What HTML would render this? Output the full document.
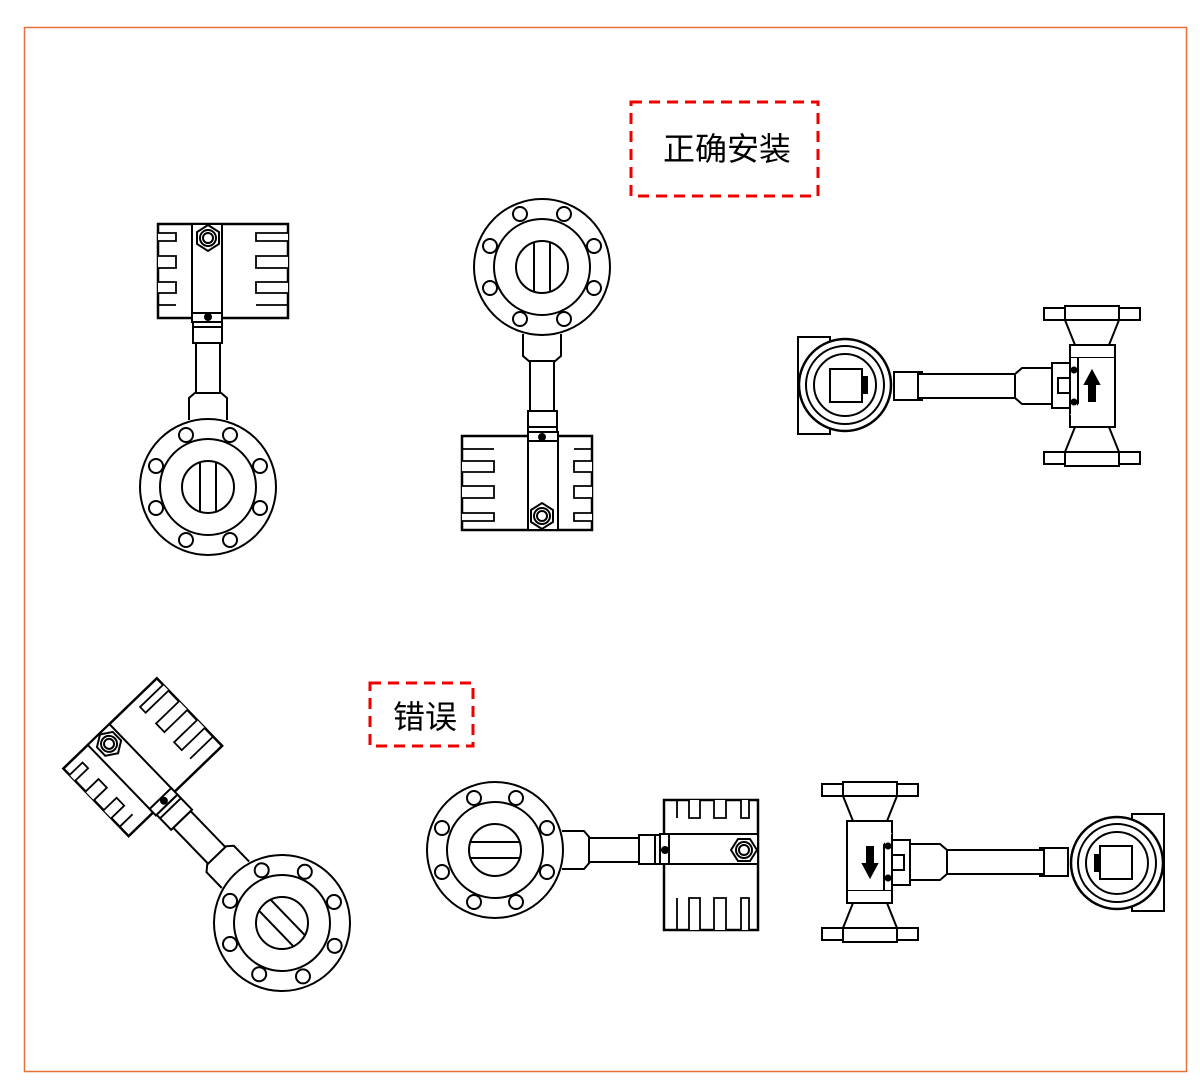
<!DOCTYPE html>
<html><head><meta charset="utf-8"><style>
body{margin:0;background:#fff;}
svg{display:block;}
text{font-family:"Liberation Sans","Noto Sans CJK SC",sans-serif;}
</style></head><body>
<svg width="1200" height="1085" viewBox="0 0 1200 1085" xmlns="http://www.w3.org/2000/svg">
<defs>
<g id="flange" fill="#fff" stroke="#000" stroke-width="2">
  <circle r="68"/>
  <circle r="48"/>
  <circle r="26"/>
  <line x1="-8" y1="-25" x2="-8" y2="25"/>
  <line x1="8" y1="-25" x2="8" y2="25"/>
  <circle cx="-22" cy="-52" r="7"/><circle cx="22" cy="-52" r="7"/>
  <circle cx="-52" cy="-21" r="7"/><circle cx="52" cy="-21" r="7"/>
  <circle cx="-52" cy="21" r="7"/><circle cx="52" cy="21" r="7"/>
  <circle cx="-22" cy="53" r="7"/><circle cx="22" cy="53" r="7"/>
</g>
<g id="vflow" fill="#fff" stroke="#000" stroke-width="2">
  <path d="M-19 -67 L-19 -89 L-12 -95 L12 -95 L19 -89 L19 -67"/>
  <rect x="-12" y="-144" width="24" height="50"/>
  <rect x="-15" y="-165" width="29" height="21"/>
  <line x1="-15" y1="-160" x2="14" y2="-160"/>
  <rect x="-50" y="-263" width="130" height="94" stroke-width="2.5"/>
  <rect x="-16" y="-263" width="30" height="94"/>
  <rect x="-16" y="-174" width="30" height="9"/>
  <g stroke-width="1.8">
  <path d="M-50 -254 H-32 V-246 H-50 M-50 -231 H-32 V-219 H-50 M-50 -205 H-32 V-194 H-50 M-50 -182 H-32"/>
  <path d="M80 -254 H48 V-246 H80 M80 -231 H48 V-219 H80 M80 -205 H48 V-194 H80 M80 -182 H48"/>
  </g>
  <polygon points="0,-262 11,-255 11,-243 0,-236 -11,-243 -11,-255"/>
  <circle cx="0" cy="-249" r="8"/><circle cx="0" cy="-249" r="5"/>
  <circle cx="0" cy="-170" r="3" fill="#000"/>
  <use href="#flange"/>
</g>
<g id="side" fill="#fff" stroke="#000" stroke-width="2">
  <rect x="-294" y="-49" width="32" height="97"/>
  <rect x="-198" y="-14" width="28" height="28"/>
  <rect x="-174" y="-12" width="97" height="24"/>
  <path d="M-77 -12 L-70 -18 L-40 -18 L-40 18 L-70 18 L-77 12 Z"/>
  <rect x="-40" y="-23" width="20" height="45"/>
  <rect x="-34" y="-8" width="14" height="15"/>
  <rect x="-22" y="-29" width="45" height="58"/>
  <line x1="-14" y1="-29" x2="-14" y2="29"/>
  <circle cx="-18" cy="-16" r="2.5" fill="#000"/><circle cx="-18" cy="16" r="2.5" fill="#000"/>
  <path d="M-22 -29 V-41 H23 V-29 M-22 29 V41 H23 V-29 M-22 41 H23"/>
  <path d="M-17 -41 L-27 -66 H27 L17 -41 Z"/>
  <path d="M-17 41 L-27 66 H27 L17 41 Z"/>
  <rect x="-48" y="-78" width="96" height="12"/>
  <rect x="-27" y="-80" width="54" height="14"/>
  <rect x="-48" y="66" width="96" height="12"/>
  <rect x="-27" y="66" width="54" height="14"/>
  <path d="M0 -15 L-7 -2 H-3 V15 H3 V-2 H7 Z" fill="#000"/>
  <circle cx="-247" cy="-1" r="46" stroke-width="2.5"/>
  <circle cx="-247" cy="-1" r="39"/>
  <circle cx="-247" cy="-1" r="31"/>
  <rect x="-262" y="-17" width="32" height="33"/>
  <rect x="-229" y="-10" width="5" height="18" fill="#000" stroke="none"/>
</g>
</defs>
<rect x="24.5" y="27.5" width="1162" height="1044" fill="none" stroke="#e8703a" stroke-width="1.5"/>
<rect x="631" y="102" width="187" height="94" fill="none" stroke="#e00" stroke-width="3" stroke-dasharray="11,7"/>
<text x="727" y="160" font-size="32" text-anchor="middle">正确安装</text>
<rect x="370" y="683" width="103" height="63" fill="none" stroke="#e00" stroke-width="3" stroke-dasharray="11,7"/>
<text x="425" y="728" font-size="32" text-anchor="middle">错误</text>
<use href="#vflow" transform="translate(208,487)"/>
<use href="#vflow" transform="translate(542,267) rotate(180)"/>
<use href="#vflow" transform="translate(282,923) rotate(-44)"/>
<use href="#vflow" transform="translate(495,850) rotate(90)"/>
<use href="#side" transform="translate(1092,386)"/>
<use href="#side" transform="translate(870,862) rotate(180)"/>
</svg>
</body></html>
